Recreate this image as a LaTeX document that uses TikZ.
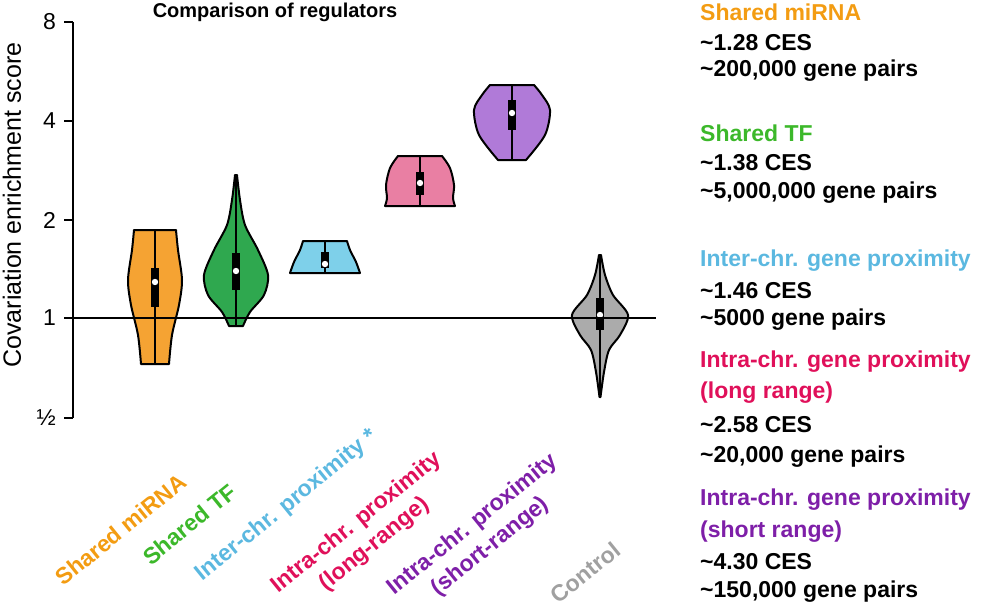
\documentclass[tikz,border=0pt]{standalone}
\usepackage{fontspec}
\setmainfont{Liberation Sans}
\definecolor{cOr}{HTML}{F5A333}
\definecolor{cGr}{HTML}{2FA84F}
\definecolor{cBl}{HTML}{7ED0EA}
\definecolor{cPk}{HTML}{E97FA3}
\definecolor{cPu}{HTML}{B07AD8}
\definecolor{cGy}{HTML}{ABABAB}
\definecolor{tOr}{HTML}{F39C12}
\definecolor{tGr}{HTML}{3CB82A}
\definecolor{tBl}{HTML}{5BB8E0}
\definecolor{tPk}{HTML}{E0105A}
\definecolor{tPu}{HTML}{7E1FA8}
\definecolor{tGy}{HTML}{A0A0A0}
\begin{document}
\begin{tikzpicture}[x=1pt,y=-1pt,
  vio/.style={draw=black,line width=2pt,line join=round},
  box/.style={fill=black},
  rtext/.style={anchor=west,font=\fontsize{23}{23}\selectfont\bfseries,inner sep=0},
  xl/.style={anchor=north east,rotate=39,font=\fontsize{23}{28}\selectfont\bfseries,align=center,inner sep=0},
  tl/.style={anchor=east,font=\fontsize{23}{23}\selectfont,inner sep=0}]
\useasboundingbox (0,0) rectangle (993,610);
% axis
\draw[line width=2pt] (73,22) -- (73,418);
\foreach \y/\t in {22/8,121/4,220/2,318/1,418/{½}}{
  \draw[line width=2pt] (64,\y) -- (73,\y);
  \node[tl] (tick\y) at (56,\y) {\t};}
\node[rotate=90,font=\fontsize{25}{25}\selectfont] (ylab) at (12,205) {Covariation enrichment score};
\node[font=\fontsize{20}{20}\selectfont\bfseries] (title) at (275,12) {Comparison of regulators};
% violins
\newcommand\vioBox[4]{% cx, boxtop, boxbot, dot
  \fill[box] (#1-4,#2) rectangle (#1+4,#3);
  \fill[white] (#1,#4) circle (3.2);}
\begin{scope}[shift={(155,0)}]
\draw[vio,fill=cOr] plot[smooth] coordinates{(21,230)(23,250)(27,280)(24,305)(17,335)(14,364)} -- plot[smooth] coordinates{(-14,364)(-17,335)(-24,305)(-27,280)(-23,250)(-21,230)} -- cycle;
\draw[line width=1.3pt] (0,230) -- (0,364);
\vioBox{0}{268}{307}{282}
\end{scope}
\begin{scope}[shift={(236,0)}]
\draw[vio,fill=cGr] plot[smooth] coordinates{(1,175)(4,200)(9,225)(22,250)(32,275)(28,295)(14,312)(7,326)} -- plot[smooth] coordinates{(-7,326)(-14,312)(-28,295)(-32,275)(-22,250)(-9,225)(-4,200)(-1,175)} -- cycle;
\draw[line width=1.3pt] (0,175) -- (0,326);
\vioBox{0}{253}{290}{271}
\end{scope}
\begin{scope}[shift={(325,0)}]
\draw[vio,fill=cBl] plot[smooth] coordinates{(22,241)(25,250)(31,262)(35,273)} -- plot[smooth] coordinates{(-35,273)(-31,262)(-25,250)(-22,241)} -- cycle;
\draw[line width=1.3pt] (0,241) -- (0,273);
\vioBox{0}{252}{268}{264}
\end{scope}
\begin{scope}[shift={(420,0)}]
\draw[vio,fill=cPk] plot[smooth] coordinates{(22,156)(30,168)(34,185)(33,198)(35,206)} -- plot[smooth] coordinates{(-35,206)(-33,198)(-34,185)(-30,168)(-22,156)} -- cycle;
\draw[line width=1.3pt] (0,156) -- (0,206);
\vioBox{0}{172}{195}{183}
\end{scope}
\begin{scope}[shift={(512,0)}]
\draw[vio,fill=cPu] plot[smooth] coordinates{(22,85)(30,95)(38,110)(33,135)(14,160)} -- plot[smooth] coordinates{(-14,160)(-33,135)(-38,110)(-30,95)(-22,85)} -- cycle;
\draw[line width=1.3pt] (0,85) -- (0,160);
\vioBox{0}{100}{130}{113}
\end{scope}
\begin{scope}[shift={(600,0)}]
\draw[vio,fill=cGy] plot[smooth] coordinates{(1,255)(5,275)(13,295)(28,315)(20,335)(9,350)(4,372)(0.5,397)} -- plot[smooth] coordinates{(-0.5,397)(-4,372)(-9,350)(-20,335)(-28,315)(-13,295)(-5,275)(-1,255)} -- cycle;
\draw[line width=1.3pt] (0,255) -- (0,397);
\vioBox{0}{298}{330}{315}
\end{scope}
\draw[line width=2pt] (73,318) -- (656,318);
% x labels
\node[xl,text=tOr] (x1) at (178,472) {Shared miRNA};
\node[xl,text=tGr] (x2) at (228,482) {Shared TF};
\node[xl,text=tBl] (x3) at (368,426) {Inter-chr. proximity *};
\node[xl,text=tPk] (x4) at (432,448) {Intra-chr. proximity\\(long-range)};
\node[xl,text=tPu] (x5) at (548,450) {Intra-chr. proximity\\(short-range)};
\node[xl,text=tGy] (x6) at (612,540) {Control};
% right legend
\node[rtext,text=tOr] (r1) at (700,12) {Shared miRNA};
\node[rtext] (r2) at (700,43) {\textasciitilde1.28 CES};
\node[rtext] (r3) at (700,71) {\textasciitilde200,000 gene pairs};
\node[rtext,text=tGr] (r4) at (700,133) {Shared TF};
\node[rtext] (r5) at (700,163) {\textasciitilde1.38 CES};
\node[rtext] (r6) at (700,193) {\textasciitilde5,000,000 gene pairs};
\node[rtext,text=tBl] (r7) at (700,261) {Inter-chr. gene proximity};
\node[rtext] (r8) at (700,291) {\textasciitilde1.46 CES};
\node[rtext] (r9) at (700,320) {\textasciitilde5000 gene pairs};
\node[rtext,text=tPk] (r10) at (700,362) {Intra-chr. gene proximity};
\node[rtext,text=tPk] (r11) at (700,393) {(long range)};
\node[rtext] (r12) at (700,425) {\textasciitilde2.58 CES};
\node[rtext] (r13) at (700,457) {\textasciitilde20,000 gene pairs};
\node[rtext,text=tPu] (r14) at (700,500) {Intra-chr. gene proximity};
\node[rtext,text=tPu] (r15) at (700,532) {(short range)};
\node[rtext] (r16) at (700,562) {\textasciitilde4.30 CES};
\node[rtext] (r17) at (700,592) {\textasciitilde150,000 gene pairs};
\end{tikzpicture}
\end{document}
